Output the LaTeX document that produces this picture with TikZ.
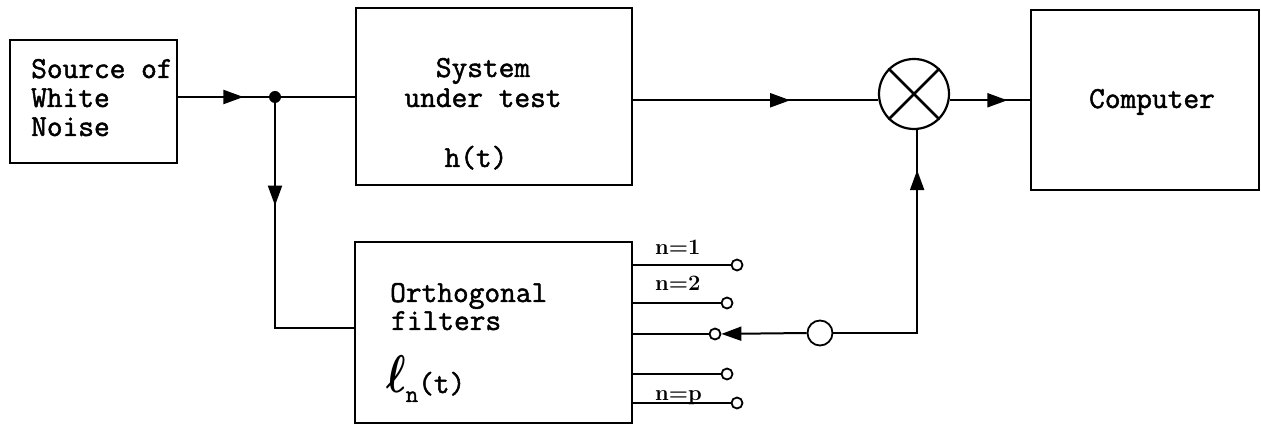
\RequirePackage{fix-cm}
\documentclass[tikz,border=0pt]{standalone}
\usepackage{fontspec}
\newfontfamily\twfont{Latin Modern Mono}[RawFeature={embolden=1.6}]
\usetikzlibrary{arrows.meta,decorations.markings,calc}
\begin{document}
\begin{tikzpicture}[x=1pt,y=-1pt,
  box/.style={draw,line width=2.4pt,inner sep=0pt},
  ln/.style={line width=2pt},
  tw/.style={inner sep=0pt,font=\fontsize{30.5}{30.5}\selectfont\twfont},
  lab/.style={inner sep=0pt,font=\fontsize{22}{22}\selectfont\bfseries},
  term/.style={circle,draw,line width=1.8pt,fill=white,minimum size=11pt,inner sep=0pt},
  tip/.style={-{Triangle[length=20pt,width=14pt]}},
  midarrow/.style={postaction={decorate},decoration={markings,
     mark=at position #1 with {\arrow{Triangle[length=20pt,width=14pt]}}}}]
\useasboundingbox (0,0) rectangle (1261,427);
% boxes
\node[box,minimum width=167pt,minimum height=123pt] (src) at (93.5,101.5) {};
\node[box,minimum width=276pt,minimum height=177pt] (sys) at (494,96.5) {};
\node[box,minimum width=277pt,minimum height=181pt] (fil) at (493.5,332.5) {};
\node[box,minimum width=228pt,minimum height=180pt] (comp) at (1145,100) {};
% texts
\node[tw,anchor=base west] (t1a) at (31,78) {Source of};
\node[tw,anchor=base west] (t1b) at (31,107) {White};
\node[tw,anchor=base west] (t1c) at (31,136) {Noise};
\node[tw,anchor=base] (t2a) at (483,77) {System};
\node[tw,anchor=base] (t2b) at (483,107) {under test};
\node[tw,anchor=base] (t2c) at (476,167) {h(t)};
\node[tw,anchor=base west] (t3a) at (390,302) {Orthogonal};
\node[tw,anchor=base west] (t3b) at (391,330) {filters};
\node[tw,anchor=base west] (t3c) at (386,393) {\scalebox{0.78}[1]{\fontsize{53}{53}\selectfont\boldmath$\ell$}\raisebox{-9pt}{\fontsize{24}{24}\selectfont n}(t)};
\node[tw,anchor=base] (t4) at (1152,108) {Computer};
% junction and multiplier
\node[circle,fill,minimum size=12pt,inner sep=0pt] (dot) at (275,97) {};
\node[circle,draw,line width=2.2pt,minimum size=70pt,inner sep=0pt] (mult) at (914,94) {};
\draw[line width=2.6pt] (mult.45) -- (mult.225) (mult.135) -- (mult.315);
% terminals
\node[term] (o1) at (737,265) {};
\node[term] (o2) at (727,303) {};
\node[term] (o3) at (715,334) {};
\node[term] (o4) at (727,374) {};
\node[term] (o5) at (737,403) {};
\node[circle,draw,line width=1.8pt,minimum size=25pt,inner sep=0pt] (sw) at (820,333) {};
% labels
\node[lab,anchor=base west] (n1) at (655,255) {n=1};
\node[lab,anchor=base west] (n2) at (655,291) {n=2};
\node[lab,anchor=base west] (np) at (655,401) {n=p};
% connectors
\draw[ln,midarrow=0.72] (dot -| src.east) -- (dot);
\draw[ln] (dot) -- (dot -| sys.west);
\draw[ln,midarrow=0.35] (dot.center) |- ($(fil.west)+(0,-4)$);
\draw[ln,midarrow=0.64] (sys.east |- mult.190) -- (mult.190);
\draw[ln,midarrow=0.72] (mult.350) -- (mult.350 -| comp.west);
\draw[ln,midarrow=0.86] (sw.east) -| (mult.275);
\draw[ln,tip] (sw.west) -- (o3);
\foreach \o in {o1,o2,o3,o4,o5} \draw[ln] (fil.east |- \o) -- (\o);
\end{tikzpicture}
\end{document}
